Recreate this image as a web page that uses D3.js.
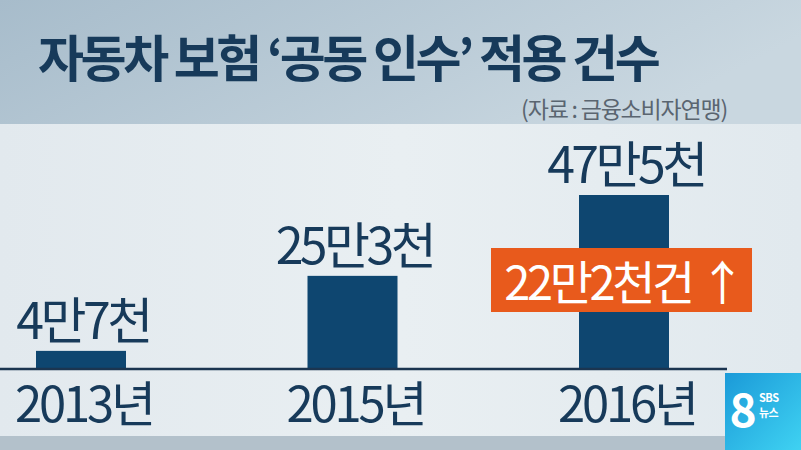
<!DOCTYPE html>
<html><head><meta charset="utf-8">
<script src="https://cdn.jsdelivr.net/npm/d3@7"></script>
<style>
html,body{margin:0;padding:0;background:#e4ebef;}
svg{display:block;}
text{font-family:"Noto Sans CJK KR","Noto Sans",sans-serif;}
</style></head>
<body>
<script>
const title = "자동차 보험 ‘공동 인수’ 적용 건수";
const source = "(자료 : 금융소비자연맹)";
const years = ["2013년", "2015년", "2016년"];
const values = [47000, 253000, 475000];
const valueLabels = ["4만7천", "25만3천", "47만5천"];
const callout = "22만2천건 ↑";

const W = 801, H = 450;
const svg = d3.select("body").append("svg").attr("width", W).attr("height", H);
const defs = svg.append("defs");

const topGrad = defs.append("linearGradient").attr("id","topG").attr("x1","0").attr("x2","1").attr("y1","0").attr("y2","0.3");
topGrad.append("stop").attr("offset","0").attr("stop-color","#a7bccb");
topGrad.append("stop").attr("offset","1").attr("stop-color","#c9d7e0");
const panelGrad = defs.append("linearGradient").attr("id","panelG").attr("x1","0").attr("x2","1").attr("y1","0").attr("y2","0");
panelGrad.append("stop").attr("offset","0").attr("stop-color","#e2e9ee");
panelGrad.append("stop").attr("offset","0.5").attr("stop-color","#e9eff2");
panelGrad.append("stop").attr("offset","1").attr("stop-color","#e1e9ee");
const logoGrad = defs.append("linearGradient").attr("id","logoG").attr("x1","0").attr("x2","1").attr("y1","0").attr("y2","1");
logoGrad.append("stop").attr("offset","0").attr("stop-color","#1b9ad8");
logoGrad.append("stop").attr("offset","1").attr("stop-color","#3fd2f2");

// backgrounds
svg.append("rect").attr("x",0).attr("y",0).attr("width",W).attr("height",124).attr("fill","url(#topG)");
svg.append("rect").attr("x",0).attr("y",124).attr("width",W).attr("height",312).attr("fill","url(#panelG)");
svg.append("rect").attr("x",0).attr("y",436).attr("width",W).attr("height",14).attr("fill","#b3c1cb");

// title
svg.append("text").attr("x",38).attr("y",77).attr("fill","#173a5a")
  .attr("font-size",50).attr("font-weight",700).attr("letter-spacing",-3.4)
  .text(title);
svg.append("text").attr("x",727).attr("y",118).attr("text-anchor","end").attr("fill","#5a6570")
  .attr("font-size",23).attr("font-weight",400).attr("letter-spacing",-1.2)
  .text(source);

// scales
const baseY = 368;
const x = d3.scalePoint().domain(years).range([81, 624]);
const y = d3.scaleLinear().domain([0, d3.max(values)]).range([baseY, 195]);
const barW = 90;

const data = years.map((yr,i)=>({yr, v: values[i], lab: valueLabels[i]}));

svg.selectAll("rect.bar").data(data).enter().append("rect").attr("class","bar")
  .attr("x", d=>x(d.yr)-barW/2).attr("width", barW)
  .attr("y", d=>y(d.v)).attr("height", d=>baseY - y(d.v))
  .attr("fill","#0e4670");

// baseline
svg.append("line").attr("x1",0).attr("x2",727).attr("y1",baseY+1).attr("y2",baseY+1)
  .attr("stroke","#1b3550").attr("stroke-width",2.5);

// value labels
svg.selectAll("text.val").data(data).enter().append("text").attr("class","val")
  .attr("x", d=>x(d.yr)+2).attr("y", d=>y(d.v)-12)
  .attr("text-anchor","middle").attr("fill","#173a5a")
  .attr("font-size",50).attr("font-weight",400).attr("letter-spacing",-3.5)
  .text(d=>d.lab);

// year labels
svg.selectAll("text.yr").data(data).enter().append("text").attr("class","yr")
  .attr("x", d=>x(d.yr)+3).attr("y", 422)
  .attr("text-anchor","middle").attr("fill","#173a5a")
  .attr("font-size",49).attr("font-weight",400).attr("letter-spacing",-3.2)
  .text(d=>d.yr);

// callout
svg.append("rect").attr("x",491).attr("y",248).attr("width",261).attr("height",64).attr("fill","#e85a1c");
svg.append("text").attr("x",(491+752)/2+2).attr("y",300).attr("text-anchor","middle").attr("fill","#ffffff")
  .attr("font-size",47).attr("font-weight",400).attr("letter-spacing",-3.4)
  .text(callout);

// logo
svg.append("rect").attr("x",725).attr("y",373).attr("width",76).attr("height",77).attr("fill","url(#logoG)");
svg.append("text").attr("x",743).attr("y",427).attr("text-anchor","middle").attr("fill","#ffffff")
  .attr("font-size",46).attr("font-weight",700).attr("font-family","Roboto, sans-serif").text("8");
svg.append("text").attr("x",759).attr("y",402).attr("fill","#ffffff")
  .attr("font-size",11).attr("font-weight",700).attr("letter-spacing",-0.5).text("SBS");
svg.append("text").attr("x",759).attr("y",417).attr("fill","#ffffff")
  .attr("font-size",11).attr("font-weight",700).attr("letter-spacing",-0.5).text("뉴스");
</script>
</body></html>
